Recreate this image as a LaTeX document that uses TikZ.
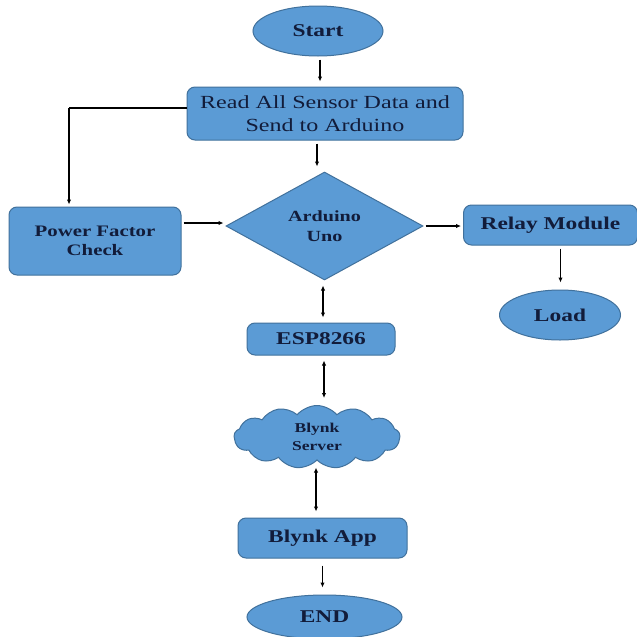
\documentclass[tikz,border=0pt]{standalone}
\usepackage{fontspec}
\setmainfont{Liberation Serif}[FakeStretch=1.3]
\usetikzlibrary{shapes.geometric,shapes.symbols,arrows.meta,calc}
\definecolor{boxfill}{RGB}{91,155,213}
\definecolor{boxline}{RGB}{65,113,156}
\definecolor{txt}{RGB}{18,28,58}
\tikzset{
  base/.style={fill=boxfill, draw=boxline, line width=1pt, text=txt, align=center, inner sep=0pt, font=\bfseries\fontsize{18}{21}\selectfont},
  boxr/.style={base, rectangle, rounded corners=8pt},
  oval/.style={base, ellipse},
  conn/.style={line width=1.4pt, -{Latex[length=5pt,width=4.5pt]}},
  both/.style={line width=1.4pt, {Latex[length=5pt,width=4.5pt]}-{Latex[length=5pt,width=4.5pt]}},
  plain/.style={line width=1.4pt}
}
\begin{document}
\begin{tikzpicture}[x=1pt,y=-1pt]
\useasboundingbox (0,0) rectangle (637,637);
\fill[white] (0,0) rectangle (637,637);
\node[oval, minimum width=130pt, minimum height=50pt] (start) at (318,31) {Start};
\node[boxr, minimum width=276pt, minimum height=53pt, font=\fontsize{18.5}{23}\selectfont] (read) at (325,113.5) {Read All Sensor Data and\\Send to Arduino};
\node[boxr, minimum width=172pt, minimum height=68pt, font=\bfseries\fontsize{16}{19.5}\selectfont] (pf) at (95,241) {Power Factor\\Check};
\node[base, diamond, minimum width=197pt, minimum height=108pt, font=\bfseries\fontsize{15.5}{20}\selectfont] (dia) at (324.5,226) {Arduino\\Uno};
\node[boxr, minimum width=174pt, minimum height=40pt] (relay) at (550.5,225) {Relay Module};
\node[oval, minimum width=121pt, minimum height=50pt] (load) at (560,315) {Load};
\node[boxr, minimum width=148pt, minimum height=32pt] (esp) at (321,339) {ESP8266};
\node[base, cloud, cloud puffs=13, cloud puff arc=100, cloud ignores aspect, minimum width=166pt, minimum height=63pt, font=\bfseries\fontsize{13.5}{17.5}\selectfont] (cloud) at (317,437) {Blynk\\Server};
\node[boxr, minimum width=169pt, minimum height=40pt] (app) at (322.5,538) {Blynk App};
\node[oval, minimum width=155pt, minimum height=44pt] (end) at (324.5,617) {END};

\draw[conn, shorten <=3pt, shorten >=5pt] ([xshift=2pt]start.south) -- ([xshift=2pt]start.south |- read.north);
\draw[conn, shorten <=3pt, shorten >=5pt] ([xshift=-8pt]read.south) -- ([xshift=-8pt]read.south |- dia.north);
\coordinate (rl) at ([yshift=5.5pt]read.west);
\coordinate (cx) at (69,0);
\coordinate (corner) at (rl -| cx);
\draw[plain] (rl) -- (corner);
\draw[conn, shorten >=2pt] (corner) -- (corner |- pf.north);
\coordinate (pfe) at ([yshift=18pt]pf.east);
\draw[conn, shorten <=2pt, shorten >=2pt] (pfe) -- (pfe -| dia.west);
\draw[conn, shorten <=2pt, shorten >=2pt] (dia.east) -- (dia.east -| relay.west);
\draw[conn, shorten <=3pt, shorten >=7pt] ([xshift=10pt]relay.south) -- ([xshift=10pt]relay.south |- load.north);
\draw[both, shorten <=5pt, shorten >=5pt] ([xshift=-1.5pt]dia.south) -- ([xshift=-1.5pt]dia.south |- esp.north);
\draw[both, shorten <=5pt, shorten >=7pt] ([xshift=3pt]esp.south) -- ([xshift=3pt]esp.south |- cloud.north);
\draw[both, shorten <=7pt, shorten >=6pt] ([xshift=-1pt]cloud.south) -- ([xshift=-1pt]cloud.south |- app.north);
\draw[conn, shorten <=7pt, shorten >=7pt] (app.south) -- (app.south |- end.north);
\end{tikzpicture}
\end{document}
